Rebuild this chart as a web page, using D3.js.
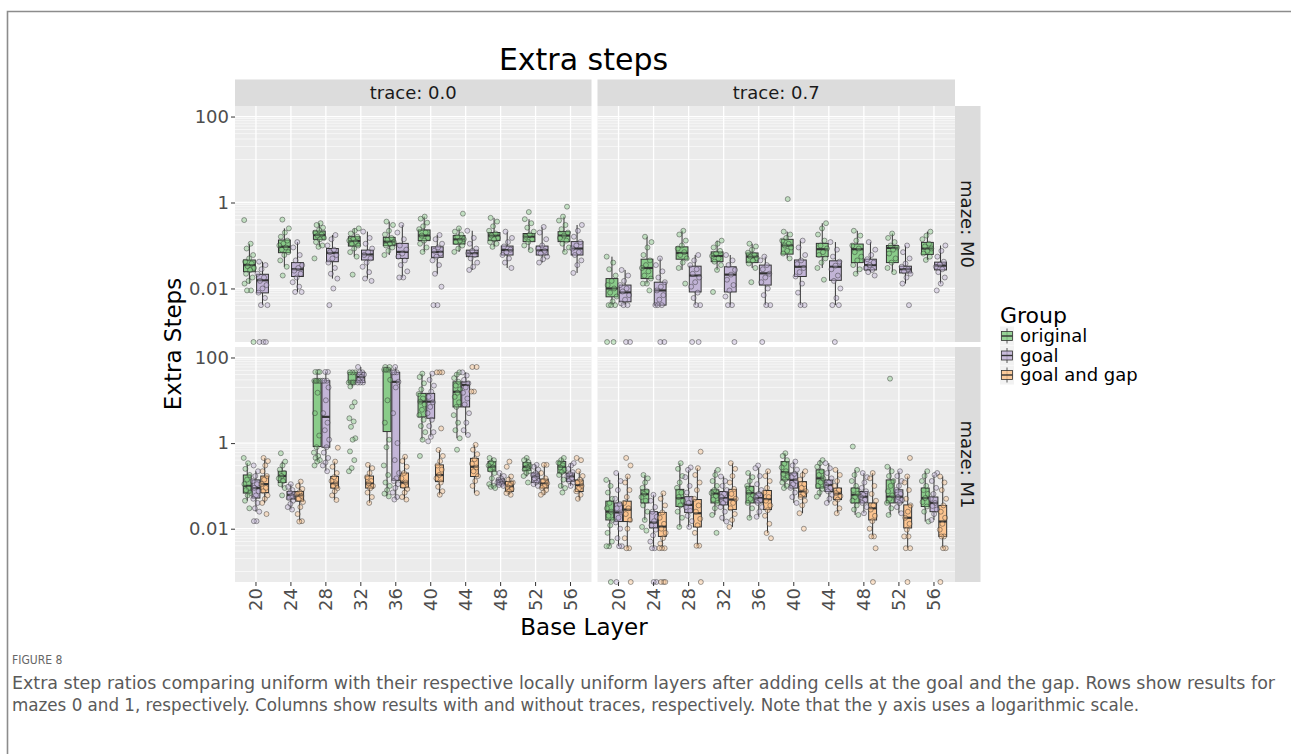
<!DOCTYPE html>
<html>
<head>
<meta charset="utf-8">
<script src="https://cdnjs.cloudflare.com/ajax/libs/d3/7.8.5/d3.min.js"></script>
<style>
  body { margin: 0; background: #fff; }
  svg { display: block; font-family: "DejaVu Sans", sans-serif; }
</style>
</head>
<body>
<div id="chart"></div>
<script>
// ---- data -------------------------------------------------------------
var layers = [20, 24, 28, 32, 36, 40, 44, 48, 52, 56]
var groups = ["original", "goal", "goal and gap"]
var traces = ["0.0", "0.7"]
var mazes = ["M0", "M1"]
var yTicks = [100, 1, 0.01]

// box stats per layer: [lower whisker, q1, median, q3, upper whisker]
var m0t0Original = [
  [0.013, 0.0245, 0.035, 0.046, 0.11], [0.032, 0.068, 0.093, 0.134, 0.25],
  [0.093, 0.139, 0.175, 0.217, 0.33], [0.055, 0.097, 0.127, 0.16, 0.25],
  [0.06, 0.099, 0.123, 0.155, 0.36], [0.071, 0.13, 0.17, 0.23, 0.47],
  [0.071, 0.108, 0.139, 0.17, 0.25], [0.093, 0.13, 0.17, 0.2, 0.44],
  [0.078, 0.123, 0.16, 0.19, 0.41], [0.071, 0.123, 0.17, 0.21, 0.47]
]
var m0t0Goal = [
  [0.0041, 0.0079, 0.0155, 0.0214, 0.042], [0.0083, 0.019, 0.028, 0.04, 0.12],
  [0.017, 0.042, 0.067, 0.085, 0.175], [0.017, 0.046, 0.062, 0.078, 0.21],
  [0.018, 0.05, 0.071, 0.112, 0.3], [0.022, 0.053, 0.071, 0.093, 0.175],
  [0.027, 0.055, 0.066, 0.078, 0.22], [0.03, 0.06, 0.078, 0.097, 0.21],
  [0.04, 0.06, 0.078, 0.097, 0.27], [0.023, 0.06, 0.085, 0.123, 0.3]
]
var m0t7Original = [
  [0.0041, 0.0064, 0.01, 0.017, 0.055], [0.013, 0.017, 0.03, 0.048, 0.16],
  [0.027, 0.048, 0.067, 0.093, 0.22], [0.027, 0.042, 0.057, 0.071, 0.13],
  [0.03, 0.04, 0.055, 0.067, 0.11], [0.05, 0.063, 0.1, 0.139, 0.21],
  [0.03, 0.055, 0.082, 0.112, 0.33], [0.022, 0.04, 0.082, 0.108, 0.22],
  [0.024, 0.04, 0.088, 0.1, 0.19], [0.046, 0.062, 0.085, 0.118, 0.21]
]
var m0t7Goal = [
  [0.0041, 0.0049, 0.0081, 0.012, 0.027], [0.0041, 0.0041, 0.009, 0.014, 0.05],
  [0.0041, 0.0083, 0.02, 0.033, 0.06], [0.0041, 0.0083, 0.021, 0.032, 0.06],
  [0.0041, 0.012, 0.0225, 0.035, 0.055], [0.0041, 0.019, 0.032, 0.046, 0.13],
  [0.0041, 0.0155, 0.032, 0.044, 0.12], [0.024, 0.027, 0.035, 0.048, 0.12],
  [0.013, 0.023, 0.028, 0.033, 0.1], [0.013, 0.027, 0.034, 0.041, 0.1]
]
var m1t0Original = [
  [0.045, 0.068, 0.1, 0.18, 0.34], [0.089, 0.12, 0.17, 0.22, 0.37],
  [0.37, 0.83, 28.6, 28.6, 46], [20, 26, 26, 45, 45],
  [0.057, 1.86, 52, 52, 60], [1.2, 4.1, 9.3, 14.5, 42],
  [1.3, 7, 15.8, 27, 45], [0.089, 0.22, 0.28, 0.37, 0.45],
  [0.166, 0.23, 0.28, 0.35, 0.45], [0.089, 0.2, 0.28, 0.37, 0.45]
]
var m1t0Goal = [
  [0.025, 0.052, 0.089, 0.138, 0.22], [0.028, 0.049, 0.062, 0.074, 0.11],
  [0.22, 0.8, 4.1, 28.6, 46], [26, 26, 35, 45, 60],
  [0.048, 0.135, 27, 45, 60], [1.4, 3.8, 9.3, 14.5, 42],
  [1.55, 7, 22.8, 27, 45], [0.1, 0.106, 0.127, 0.144, 0.2],
  [0.1, 0.12, 0.166, 0.2, 0.31], [0.1, 0.127, 0.166, 0.2, 0.34]
]
var m1t0GoalGap = [
  [0.04, 0.07, 0.11, 0.17, 0.45], [0.0147, 0.044, 0.06, 0.074, 0.126],
  [0.047, 0.089, 0.115, 0.166, 0.37], [0.04, 0.089, 0.115, 0.17, 0.31],
  [0.048, 0.091, 0.12, 0.2, 0.48], [0.062, 0.126, 0.18, 0.31, 0.69],
  [0.068, 0.166, 0.28, 0.44, 0.91], [0.062, 0.074, 0.098, 0.127, 0.166],
  [0.062, 0.089, 0.115, 0.144, 0.31], [0.047, 0.074, 0.105, 0.138, 0.22]
]
var m1t7Original = [
  [0.0039, 0.016, 0.025, 0.044, 0.138], [0.016, 0.04, 0.064, 0.081, 0.18],
  [0.011, 0.033, 0.052, 0.083, 0.34], [0.021, 0.04, 0.066, 0.081, 0.237],
  [0.018, 0.04, 0.068, 0.098, 0.2], [0.089, 0.138, 0.21, 0.37, 0.58],
  [0.056, 0.089, 0.15, 0.237, 0.4], [0.021, 0.04, 0.062, 0.089, 0.237],
  [0.021, 0.04, 0.056, 0.138, 0.28], [0.0147, 0.033, 0.052, 0.089, 0.22]
]
var m1t7Goal = [
  [0.0039, 0.0147, 0.024, 0.04, 0.2], [0.0035, 0.0104, 0.014, 0.025, 0.062],
  [0.011, 0.024, 0.036, 0.056, 0.237], [0.0147, 0.036, 0.052, 0.074, 0.166],
  [0.019, 0.04, 0.052, 0.068, 0.26], [0.04, 0.089, 0.138, 0.2, 0.37],
  [0.04, 0.074, 0.105, 0.138, 0.34], [0.023, 0.04, 0.056, 0.074, 0.2],
  [0.023, 0.04, 0.056, 0.081, 0.22], [0.016, 0.025, 0.04, 0.055, 0.18]
]
var m1t7GoalGap = [
  [0.0035, 0.0147, 0.028, 0.044, 0.166], [0.0035, 0.0066, 0.0112, 0.024, 0.067],
  [0.004, 0.011, 0.023, 0.048, 0.26], [0.011, 0.028, 0.048, 0.083, 0.34],
  [0.0079, 0.028, 0.049, 0.078, 0.22], [0.023, 0.055, 0.074, 0.126, 0.22],
  [0.023, 0.048, 0.066, 0.089, 0.237], [0.0066, 0.016, 0.03, 0.04, 0.2],
  [0.0035, 0.0104, 0.018, 0.036, 0.166], [0.0035, 0.0066, 0.0147, 0.035, 0.166]
]

// individual runs per layer (0 = no extra steps, drawn at the panel floor)
var m0t0OriginalPts = [
  [0.39, 0.11, 0.085, 0.06, 0.05, 0.042, 0.038, 0.033, 0.03, 0.027, 0.022, 0.018, 0.015, 0.013, 0.009, 0.009, 0],
  [0.4, 0.25, 0.2, 0.16, 0.13, 0.11, 0.1, 0.09, 0.08, 0.07, 0.06, 0.045, 0.032, 0.02],
  [0.33, 0.3, 0.26, 0.23, 0.2, 0.18, 0.17, 0.15, 0.14, 0.12, 0.1, 0.093, 0.05],
  [0.25, 0.22, 0.19, 0.16, 0.14, 0.13, 0.12, 0.11, 0.1, 0.085, 0.07, 0.055, 0.021],
  [0.36, 0.3, 0.22, 0.18, 0.15, 0.135, 0.12, 0.11, 0.1, 0.09, 0.075, 0.06],
  [0.47, 0.42, 0.34, 0.28, 0.24, 0.2, 0.17, 0.15, 0.13, 0.11, 0.09, 0.071],
  [0.55, 0.25, 0.21, 0.18, 0.16, 0.14, 0.13, 0.12, 0.1, 0.085, 0.071],
  [0.44, 0.36, 0.28, 0.22, 0.19, 0.17, 0.15, 0.14, 0.12, 0.11, 0.093],
  [0.6, 0.41, 0.33, 0.26, 0.21, 0.18, 0.16, 0.14, 0.12, 0.1, 0.078],
  [0.8, 0.47, 0.38, 0.3, 0.24, 0.2, 0.17, 0.15, 0.13, 0.11, 0.09, 0.071]
]
var m0t0GoalPts = [
  [0.042, 0.035, 0.028, 0.022, 0.018, 0.015, 0.012, 0.01, 0.008, 0.006, 0.0041, 0.0041, 0, 0, 0],
  [0.12, 0.09, 0.06, 0.045, 0.035, 0.03, 0.026, 0.022, 0.018, 0.014, 0.011, 0.0083, 0.0083],
  [0.175, 0.14, 0.1, 0.08, 0.07, 0.06, 0.05, 0.04, 0.03, 0.022, 0.017, 0.01, 0.0041],
  [0.21, 0.15, 0.11, 0.085, 0.07, 0.06, 0.05, 0.04, 0.032, 0.024, 0.017, 0.015],
  [0.3, 0.2, 0.14, 0.1, 0.08, 0.065, 0.055, 0.045, 0.035, 0.025, 0.018, 0.018],
  [0.175, 0.14, 0.11, 0.09, 0.075, 0.065, 0.055, 0.045, 0.035, 0.022, 0.011, 0.0041, 0.0041],
  [0.22, 0.15, 0.11, 0.085, 0.075, 0.066, 0.06, 0.05, 0.04, 0.032, 0.027],
  [0.21, 0.15, 0.12, 0.095, 0.08, 0.07, 0.06, 0.05, 0.04, 0.03],
  [0.27, 0.2, 0.14, 0.1, 0.085, 0.075, 0.065, 0.055, 0.048, 0.04],
  [0.3, 0.22, 0.16, 0.12, 0.1, 0.085, 0.07, 0.06, 0.045, 0.035, 0.023]
]
var m0t7OriginalPts = [
  [0.055, 0.04, 0.028, 0.02, 0.015, 0.012, 0.01, 0.008, 0.0065, 0.005, 0.0041, 0.0041, 0.0041, 0, 0],
  [0.16, 0.12, 0.09, 0.06, 0.045, 0.035, 0.03, 0.025, 0.02, 0.017, 0.013, 0.013, 0.009],
  [0.22, 0.18, 0.13, 0.1, 0.085, 0.07, 0.06, 0.05, 0.04, 0.03, 0.013],
  [0.13, 0.11, 0.09, 0.075, 0.065, 0.057, 0.05, 0.042, 0.035, 0.027, 0.0083],
  [0.11, 0.095, 0.08, 0.068, 0.06, 0.055, 0.05, 0.045, 0.038, 0.03, 0.014],
  [1.2, 0.21, 0.18, 0.15, 0.13, 0.11, 0.1, 0.09, 0.075, 0.065, 0.05],
  [0.33, 0.25, 0.18, 0.13, 0.1, 0.085, 0.07, 0.06, 0.05, 0.04, 0.03, 0.016],
  [0.22, 0.17, 0.13, 0.1, 0.085, 0.07, 0.055, 0.045, 0.035, 0.028, 0.022],
  [0.19, 0.15, 0.12, 0.1, 0.09, 0.08, 0.065, 0.05, 0.04, 0.03, 0.024],
  [0.21, 0.17, 0.14, 0.11, 0.095, 0.085, 0.075, 0.065, 0.055, 0.046]
]
var m0t7GoalPts = [
  [0.027, 0.02, 0.015, 0.012, 0.01, 0.0085, 0.007, 0.0055, 0.0045, 0.0041, 0.0041, 0, 0],
  [0.05, 0.035, 0.025, 0.018, 0.014, 0.011, 0.009, 0.007, 0.0055, 0.0041, 0.0041, 0.0041, 0, 0],
  [0.06, 0.045, 0.035, 0.028, 0.022, 0.018, 0.014, 0.011, 0.008, 0.006, 0.0041, 0.0041, 0, 0],
  [0.06, 0.045, 0.035, 0.027, 0.021, 0.016, 0.012, 0.009, 0.0065, 0.0041, 0.0041, 0],
  [0.055, 0.045, 0.035, 0.028, 0.022, 0.018, 0.014, 0.01, 0.007, 0.0041, 0.0041, 0],
  [0.13, 0.09, 0.06, 0.045, 0.037, 0.03, 0.024, 0.019, 0.013, 0.008, 0.0041, 0.0041],
  [0.12, 0.08, 0.055, 0.042, 0.034, 0.028, 0.02, 0.015, 0.01, 0.006, 0.0041, 0.0041, 0],
  [0.12, 0.08, 0.06, 0.048, 0.04, 0.035, 0.03, 0.027, 0.024, 0.02],
  [0.1, 0.07, 0.05, 0.038, 0.032, 0.028, 0.025, 0.022, 0.018, 0.013, 0.0041],
  [0.1, 0.075, 0.055, 0.042, 0.036, 0.032, 0.028, 0.024, 0.018, 0.013, 0.009]
]
var m1t0OriginalPts = [
  [0.45, 0.34, 0.25, 0.18, 0.14, 0.11, 0.09, 0.08, 0.068, 0.06, 0.045, 0.03],
  [0.58, 0.37, 0.3, 0.24, 0.2, 0.17, 0.15, 0.13, 0.11, 0.089, 0.06],
  [46, 46, 46, 28.6, 28.6, 28.6, 28.6, 28.6, 15, 5, 1.5, 0.8, 0.6, 0.5, 0.45, 0.4, 0.37, 0.3],
  [45, 45, 45, 26, 26, 26, 26, 21, 9, 7.1, 3.8, 3.2, 2.4, 1.3, 1.2, 0.64, 0.4, 0.26, 0.22],
  [60, 60, 52, 52, 52, 52, 30, 10, 3, 1.2, 0.8, 0.3, 0.18, 0.12, 0.1, 0.08, 0.066, 0.057],
  [42, 35, 25, 18, 14, 11, 9.3, 8, 6, 4.5, 3.5, 2.5, 1.8, 1.2, 0.5],
  [45, 40, 33, 27, 22, 18, 15, 12, 9, 7, 4.5, 3, 2, 1.3, 0.7],
  [0.45, 0.4, 0.35, 0.3, 0.27, 0.24, 0.2, 0.15, 0.11, 0.1, 0.095, 0.089],
  [0.45, 0.4, 0.36, 0.32, 0.29, 0.27, 0.24, 0.22, 0.2, 0.17, 0.12],
  [0.45, 0.4, 0.35, 0.3, 0.27, 0.24, 0.21, 0.18, 0.14, 0.1, 0.089, 0.07]
]
var m1t0GoalPts = [
  [0.3, 0.22, 0.17, 0.13, 0.11, 0.09, 0.075, 0.06, 0.05, 0.04, 0.03, 0.025, 0.015, 0.015],
  [0.11, 0.095, 0.08, 0.07, 0.064, 0.058, 0.052, 0.045, 0.038, 0.032, 0.028],
  [46, 46, 28.6, 28.6, 28.6, 20, 10, 5, 3, 2, 1.2, 0.8, 0.6, 0.45, 0.35, 0.3, 0.22],
  [60, 45, 45, 40, 35, 30, 26, 26, 26],
  [60, 45, 45, 45, 27, 20, 5, 1, 0.4, 0.2, 0.15, 0.13, 0.11, 0.09, 0.07, 0.055, 0.048],
  [42, 30, 22, 16, 12, 9, 7, 5, 3.5, 2.5, 1.8, 1.4, 1.1],
  [45, 38, 30, 25, 20, 15, 11, 8, 5, 3, 2, 1.55],
  [0.2, 0.17, 0.15, 0.14, 0.13, 0.125, 0.12, 0.11, 0.105, 0.1],
  [0.31, 0.28, 0.24, 0.2, 0.18, 0.165, 0.15, 0.13, 0.12, 0.11, 0.1],
  [0.34, 0.3, 0.25, 0.21, 0.19, 0.17, 0.15, 0.13, 0.12, 0.1]
]
var m1t0GoalGapPts = [
  [0.45, 0.38, 0.3, 0.22, 0.17, 0.14, 0.11, 0.09, 0.075, 0.06, 0.05, 0.04, 0.022],
  [0.126, 0.1, 0.085, 0.072, 0.065, 0.058, 0.05, 0.042, 0.032, 0.022, 0.015, 0.0147],
  [0.78, 0.37, 0.28, 0.2, 0.16, 0.13, 0.115, 0.1, 0.088, 0.075, 0.06, 0.047],
  [0.31, 0.26, 0.2, 0.16, 0.13, 0.115, 0.1, 0.088, 0.07, 0.055, 0.04],
  [0.48, 0.38, 0.28, 0.2, 0.15, 0.12, 0.1, 0.085, 0.07, 0.055, 0.048],
  [45, 45, 45, 2.2, 0.69, 0.5, 0.38, 0.3, 0.24, 0.18, 0.15, 0.12, 0.095, 0.075, 0.062],
  [60, 60, 16, 16, 0.91, 0.7, 0.55, 0.42, 0.33, 0.27, 0.22, 0.17, 0.13, 0.1, 0.068],
  [0.37, 0.28, 0.166, 0.14, 0.12, 0.105, 0.095, 0.085, 0.075, 0.068, 0.062],
  [0.31, 0.31, 0.2, 0.15, 0.13, 0.115, 0.1, 0.09, 0.08, 0.07, 0.062],
  [0.45, 0.4, 0.22, 0.17, 0.14, 0.12, 0.1, 0.088, 0.075, 0.062, 0.05]
]
var m1t7OriginalPts = [
  [0.138, 0.1, 0.07, 0.05, 0.04, 0.03, 0.025, 0.02, 0.016, 0.012, 0.008, 0.005, 0.0039, 0.0039, 0],
  [0.18, 0.15, 0.12, 0.09, 0.075, 0.065, 0.055, 0.045, 0.035, 0.025, 0.016, 0.011, 0.009],
  [0.34, 0.25, 0.17, 0.12, 0.09, 0.07, 0.055, 0.045, 0.035, 0.025, 0.018, 0.011],
  [0.237, 0.18, 0.13, 0.1, 0.08, 0.068, 0.058, 0.048, 0.04, 0.03, 0.021, 0.008],
  [0.2, 0.16, 0.13, 0.1, 0.085, 0.07, 0.06, 0.05, 0.04, 0.03, 0.018],
  [0.58, 0.5, 0.4, 0.33, 0.27, 0.22, 0.19, 0.16, 0.14, 0.12, 0.1, 0.089],
  [0.4, 0.34, 0.28, 0.22, 0.18, 0.15, 0.12, 0.1, 0.085, 0.07, 0.056],
  [0.83, 0.237, 0.18, 0.13, 0.1, 0.08, 0.065, 0.055, 0.045, 0.035, 0.028, 0.021],
  [32, 0.28, 0.22, 0.17, 0.13, 0.1, 0.075, 0.06, 0.05, 0.04, 0.03, 0.021],
  [0.22, 0.17, 0.13, 0.1, 0.08, 0.065, 0.052, 0.042, 0.033, 0.025, 0.0147]
]
var m1t7GoalPts = [
  [0.2, 0.13, 0.08, 0.05, 0.038, 0.03, 0.024, 0.018, 0.014, 0.01, 0.006, 0.0039, 0.0039, 0],
  [0.062, 0.045, 0.032, 0.025, 0.019, 0.015, 0.012, 0.0095, 0.007, 0.005, 0.0035, 0.0035, 0, 0],
  [0.27, 0.237, 0.16, 0.1, 0.07, 0.05, 0.04, 0.032, 0.026, 0.02, 0.015, 0.011],
  [0.166, 0.13, 0.1, 0.08, 0.065, 0.055, 0.047, 0.04, 0.032, 0.025, 0.018, 0.0147],
  [0.3, 0.26, 0.17, 0.11, 0.08, 0.065, 0.055, 0.047, 0.04, 0.032, 0.025, 0.019],
  [0.37, 0.3, 0.24, 0.19, 0.16, 0.13, 0.11, 0.09, 0.07, 0.055, 0.04],
  [0.34, 0.26, 0.2, 0.15, 0.12, 0.105, 0.09, 0.075, 0.062, 0.05, 0.04],
  [0.2, 0.16, 0.12, 0.09, 0.075, 0.062, 0.055, 0.047, 0.04, 0.032, 0.023],
  [0.22, 0.17, 0.13, 0.1, 0.08, 0.065, 0.055, 0.047, 0.04, 0.032, 0.023],
  [0.2, 0.18, 0.13, 0.09, 0.065, 0.05, 0.04, 0.034, 0.028, 0.022, 0.016]
]
var m1t7GoalGapPts = [
  [0.45, 0.3, 0.166, 0.12, 0.08, 0.055, 0.04, 0.03, 0.022, 0.016, 0.01, 0.006, 0.0035, 0.0035, 0],
  [0.067, 0.05, 0.035, 0.024, 0.018, 0.013, 0.01, 0.008, 0.006, 0.0045, 0.0035, 0.0035, 0.0035, 0, 0, 0],
  [0.63, 0.26, 0.18, 0.12, 0.08, 0.05, 0.035, 0.025, 0.017, 0.012, 0.008, 0.004, 0.004, 0],
  [0.34, 0.25, 0.17, 0.12, 0.085, 0.065, 0.05, 0.04, 0.03, 0.022, 0.016, 0.011],
  [0.22, 0.17, 0.13, 0.09, 0.07, 0.055, 0.045, 0.035, 0.027, 0.02, 0.013, 0.0079, 0.006],
  [0.22, 0.18, 0.14, 0.11, 0.09, 0.075, 0.065, 0.055, 0.045, 0.035, 0.023, 0.01],
  [0.237, 0.18, 0.13, 0.1, 0.08, 0.068, 0.058, 0.048, 0.04, 0.03, 0.023],
  [0.2, 0.15, 0.1, 0.065, 0.045, 0.035, 0.028, 0.02, 0.015, 0.01, 0.0066, 0.0066, 0.0035, 0],
  [0.45, 0.166, 0.12, 0.08, 0.05, 0.035, 0.025, 0.018, 0.013, 0.0095, 0.0066, 0.0066, 0.0035, 0.0035, 0],
  [0.166, 0.12, 0.08, 0.05, 0.035, 0.025, 0.018, 0.013, 0.0095, 0.0066, 0.0066, 0.0035, 0.0035, 0]
]

var captionLines = [
  "Extra step ratios comparing uniform with their respective locally uniform layers after adding cells at the goal and the gap. Rows show results for",
  "mazes 0 and 1, respectively. Columns show results with and without traces, respectively. Note that the y axis uses a logarithmic scale."
]

// ---- panels -----------------------------------------------------------
var panels = [
  { row: 0, col: 0, series: [[m0t0Original, m0t0OriginalPts], [m0t0Goal, m0t0GoalPts]] },
  { row: 0, col: 1, series: [[m0t7Original, m0t7OriginalPts], [m0t7Goal, m0t7GoalPts]] },
  { row: 1, col: 0, series: [[m1t0Original, m1t0OriginalPts], [m1t0Goal, m1t0GoalPts], [m1t0GoalGap, m1t0GoalGapPts]] },
  { row: 1, col: 1, series: [[m1t7Original, m1t7OriginalPts], [m1t7Goal, m1t7GoalPts], [m1t7GoalGap, m1t7GoalGapPts]] }
]

var colors = ["#7fc97f", "#beaed4", "#fdc086"]
var colX = [[235, 591.5], [597.5, 955]]
var rowY = [[106, 342], [347, 582]]
var minorGrid = yTicks.flatMap(function(b) { return d3.range(1, 10).map(function(k) { return b * k / 10 }) })

var svg = d3.select("#chart").append("svg").attr("width", 1291).attr("height", 754)
svg.append("rect").attr("width", 1291).attr("height", 754).attr("fill", "#fff")

// figure frame
svg.append("path").attr("d", "M7.5,754V11.5H1291").attr("fill", "none")
  .attr("stroke", "#8c8c8c").attr("stroke-width", 1.6)

function makeX(col) {
  return d3.scaleBand().domain(layers.map(String)).range(colX[col]).paddingInner(0).paddingOuter(0.1)
}
function makeY(row) {
  return d3.scaleLog().domain([Math.pow(10, -3.245), Math.pow(10, 2.245)]).range([rowY[row][1], rowY[row][0]])
}

panels.forEach(function(p) {
  var x = makeX(p.col), y = makeY(p.row)
  var x0 = colX[p.col][0], x1 = colX[p.col][1], y0 = rowY[p.row][0], y1 = rowY[p.row][1]
  var g = svg.append("g")
  var yv = function(v) { return v > 0 ? y(v) : y1 }

  g.append("rect").attr("x", x0).attr("y", y0).attr("width", x1 - x0).attr("height", y1 - y0).attr("fill", "#ebebeb")

  g.selectAll(".minor").data(minorGrid.filter(function(v) { return y(v) > y0 && y(v) < y1 }))
    .enter().append("line")
    .attr("x1", x0).attr("x2", x1).attr("y1", y).attr("y2", y)
    .attr("stroke", "#fff").attr("stroke-width", 0.6)
  g.selectAll(".major").data(yTicks).enter().append("line")
    .attr("x1", x0).attr("x2", x1).attr("y1", y).attr("y2", y)
    .attr("stroke", "#fff").attr("stroke-width", 1.3)
  g.selectAll(".vgrid").data(layers).enter().append("line")
    .attr("x1", function(d) { return x(String(d)) + x.bandwidth() / 2 })
    .attr("x2", function(d) { return x(String(d)) + x.bandwidth() / 2 })
    .attr("y1", y0).attr("y2", y1)
    .attr("stroke", "#fff").attr("stroke-width", 1.3)

  var n = p.series.length
  var step = x.step()
  var slot = 0.75 * step / n
  var bw = slot * 0.9
  var centre = function(i, j) { return x(String(layers[i])) + x.bandwidth() / 2 - 0.375 * step + slot * (j + 0.5) }

  // boxes
  p.series.forEach(function(s, j) {
    var bg = g.append("g")
    s[0].forEach(function(b, i) {
      var cx = centre(i, j)
      bg.append("line").attr("x1", cx).attr("x2", cx).attr("y1", yv(b[0])).attr("y2", yv(b[1]))
        .attr("stroke", "#333").attr("stroke-width", 1)
      bg.append("line").attr("x1", cx).attr("x2", cx).attr("y1", yv(b[3])).attr("y2", yv(b[4]))
        .attr("stroke", "#333").attr("stroke-width", 1)
      bg.append("rect").attr("x", cx - bw / 2).attr("width", bw)
        .attr("y", yv(b[3])).attr("height", Math.max(1, yv(b[1]) - yv(b[3])))
        .attr("fill", colors[j]).attr("fill-opacity", 0.9)
        .attr("stroke", "#333").attr("stroke-width", 1)
      bg.append("line").attr("x1", cx - bw / 2).attr("x2", cx + bw / 2).attr("y1", yv(b[2])).attr("y2", yv(b[2]))
        .attr("stroke", "#333").attr("stroke-width", 2.2)
    })
  })

  // jittered points
  p.series.forEach(function(s, j) {
    s[1].forEach(function(pts, i) {
      var cx = centre(i, j)
      g.append("g").selectAll("circle").data(pts).enter().append("circle")
        .attr("cx", function(d, k) { return cx + (((k * 0.618034 + i * 0.31 + j * 0.17) % 1) - 0.5) * 0.8 * slot })
        .attr("cy", yv)
        .attr("r", 2.5)
        .attr("fill", colors[j]).attr("fill-opacity", 0.4)
        .attr("stroke", "#2b2b2b").attr("stroke-opacity", 0.55).attr("stroke-width", 0.8)
    })
  })

  // strips
  if (p.row === 0) {
    svg.append("rect").attr("x", x0).attr("y", 79.5).attr("width", x1 - x0).attr("height", y0 - 79.5).attr("fill", "#dcdcdc")
    svg.append("text").attr("x", (x0 + x1) / 2).attr("y", (79.5 + y0) / 2).attr("dy", "0.35em")
      .attr("text-anchor", "middle").style("font-size", "18px").attr("fill", "#1a1a1a")
      .text("trace: " + traces[p.col])
  }
  if (p.col === 1) {
    svg.append("rect").attr("x", x1).attr("y", y0).attr("width", 25.5).attr("height", y1 - y0).attr("fill", "#dcdcdc")
    svg.append("text").attr("transform", "translate(" + (x1 + 12.75) + "," + ((y0 + y1) / 2) + ") rotate(90)")
      .attr("dy", "0.35em").attr("text-anchor", "middle").style("font-size", "18px").attr("fill", "#1a1a1a")
      .text("maze: " + mazes[p.row])
  }

  // axes
  if (p.col === 0) {
    var ya = svg.append("g").attr("transform", "translate(" + x0 + ",0)")
      .call(d3.axisLeft(y).tickValues(yTicks).tickSize(4).tickPadding(2)
        .tickFormat(function(d) { return d >= 1 ? String(d) : d.toFixed(2) }))
    ya.select(".domain").remove()
    ya.selectAll("line").attr("stroke", "#333")
    ya.selectAll("text").attr("fill", "#4d4d4d").style("font-size", "18px").style("font-family", "DejaVu Sans")
  }
  if (p.row === 1) {
    var xa = svg.append("g").attr("transform", "translate(0," + y1 + ")")
      .call(d3.axisBottom(x).tickSize(4).tickPadding(2))
    xa.select(".domain").remove()
    xa.selectAll("line").attr("stroke", "#333")
    xa.selectAll("text").attr("fill", "#4d4d4d").style("font-size", "18px").style("font-family", "DejaVu Sans")
      .attr("transform", "rotate(-90)").attr("text-anchor", "end")
      .attr("x", -6).attr("y", 0).attr("dy", "0.35em")
  }
})

// titles
svg.append("text").attr("x", 583.5).attr("y", 70).attr("text-anchor", "middle")
  .style("font-size", "30px").attr("fill", "#000").text("Extra steps")
svg.append("text").attr("x", 584).attr("y", 635).attr("text-anchor", "middle")
  .style("font-size", "23px").attr("fill", "#000").text("Base Layer")
svg.append("text").attr("transform", "translate(181,344) rotate(-90)").attr("text-anchor", "middle")
  .style("font-size", "23px").attr("fill", "#000").text("Extra Steps")

// legend
var legend = svg.append("g")
legend.append("text").attr("x", 1000).attr("y", 323).style("font-size", "22px").attr("fill", "#000").text("Group")
groups.forEach(function(name, i) {
  var cy = 336 + i * 19.5
  var k = legend.append("g")
  k.append("rect").attr("x", 1000).attr("y", cy - 9.5).attr("width", 14).attr("height", 19).attr("fill", "#f2f2f2")
  k.append("line").attr("x1", 1007).attr("x2", 1007).attr("y1", cy - 7.5).attr("y2", cy + 7.5).attr("stroke", "#333").attr("stroke-width", 0.8)
  k.append("rect").attr("x", 1001.5).attr("y", cy - 4.5).attr("width", 11).attr("height", 9)
    .attr("fill", colors[i]).attr("fill-opacity", 0.8).attr("stroke", "#333").attr("stroke-width", 0.8)
  k.append("line").attr("x1", 1001.5).attr("x2", 1012.5).attr("y1", cy).attr("y2", cy).attr("stroke", "#333").attr("stroke-width", 1.4)
  legend.append("text").attr("x", 1020).attr("y", cy).attr("dy", "0.35em")
    .style("font-size", "18px").attr("fill", "#000").text(name)
})

// caption
var cap = svg.append("g").style("font-family", "'Liberation Sans Narrow', 'DejaVu Sans Condensed', 'Open Sans', sans-serif")
cap.append("text").attr("x", 12).attr("y", 664).style("font-size", "12px").attr("fill", "#666").text("FIGURE 8")
cap.selectAll(".cap").data(captionLines).enter().append("text")
  .attr("x", 12).attr("y", function(d, i) { return 689 + i * 22 })
  .attr("textLength", function(d, i) { return i === 0 ? 1263 : 1127 })
  .attr("lengthAdjust", "spacingAndGlyphs")
  .style("font-size", "17px").attr("fill", "#5a5a5a").text(function(d) { return d })
</script>
</body>
</html>
